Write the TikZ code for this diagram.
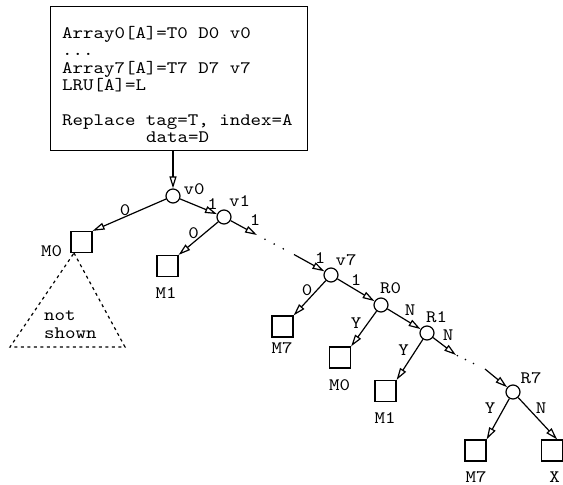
\documentclass[tikz,border=0pt]{standalone}
\usepackage{fontspec}
\setmonofont{lmmono10-regular.otf}[FakeStretch=1.14]
\usetikzlibrary{arrows.meta}
\begin{document}
\begin{tikzpicture}[x=1pt,y=-1pt,
  every node/.style={font=\ttfamily\fontsize{17.5}{17.5}\selectfont, inner sep=0pt},
  lbl/.style={anchor=base},
  txt/.style={anchor=base west},
  dec/.style={draw, circle, minimum size=14pt, line width=1.2pt},
  leaf/.style={draw, rectangle, minimum size=21pt, line width=1.2pt},
  arr/.style={line width=1.2pt, -{Triangle[open,length=12pt,width=7pt]}},
  dotchain/.style={line width=1.8pt, line cap=round, dash pattern=on 0pt off 10.3pt, dash phase=1.2pt, shorten >=6pt},
  dotchainb/.style={line width=1.8pt, line cap=round, dash pattern=on 0pt off 9pt, dash phase=7.5pt, shorten >=6pt},
  hidden/.style={line width=1.2pt, dash pattern=on 3pt off 3.5pt},
]
\useasboundingbox (0,0) rectangle (563,485);

% top box
\node[draw, line width=1.2pt, minimum width=257pt, minimum height=144pt, anchor=north west] (box) at (50,6) {};
\node[txt] (t1) at (62,38.3) {Array0[A]=T0 D0 v0};
\node[txt] (t2) at (62,55.6) {...};
\node[txt] (t3) at (62,73) {Array7[A]=T7 D7 v7};
\node[txt] (t4) at (62,90.3) {LRU[A]=L};
\node[txt] (t5) at (62,125) {Replace tag=T, index=A};
\node[txt] (t6) at (146,142.3) {data=D};

% decision nodes
\node[dec] (v0) at (173,196) {};
\node[dec] (v1) at (224,217) {};
\node[dec] (v7) at (331,275) {};
\node[dec] (r0) at (381,305) {};
\node[dec] (r1) at (427,333) {};
\node[dec] (r7) at (513,392) {};

% leaves
\node[leaf] (m0a) at (81.5,242) {};
\node[leaf] (m1a) at (167.5,266) {};
\node[leaf] (m7a) at (282.5,326.5) {};
\node[leaf] (m0b) at (340,357.5) {};
\node[leaf] (m1b) at (385.5,391) {};
\node[leaf] (m7b) at (475.5,450.5) {};
\node[leaf] (xs) at (552,450.5) {};

% dotted chain points
\coordinate (c1) at (257,235);
\coordinate (c2) at (294,254.5);
\coordinate (c3) at (456,355);
\coordinate (c4) at (485,369);

% edges
\draw[arr] (v0 |- box.south) -- (v0);
\draw[arr] (v0) -- (m0a.north east);
\draw[arr] (v0) -- (v1);
\draw[arr] (v1) -- (m1a.north east);
\draw[arr] (v1) -- (c1);
\draw[dotchain] (c1) -- (c2);
\draw[arr] (c2) -- (v7);
\draw[arr] (v7) -- (m7a.north east);
\draw[arr] (v7) -- (r0);
\draw[arr] (r0) -- (m0b.north east);
\draw[arr] (r0) -- (r1);
\draw[arr] (r1) -- (m1b.north east);
\draw[arr] (r1) -- (c3);
\draw[dotchainb] (c3) -- (c4);
\draw[arr] (c4) -- (r7);
\draw[arr] (r7) -- (m7b.north east);
\draw[arr] (r7) -- ([xshift=-6pt]xs.north east);

% subtree not shown
\coordinate (ta) at (74,253);
\coordinate (tb) at (125,347);
\coordinate (tc) at (10,347);
\draw[hidden] (ta) -- (tb) -- (tc) -- cycle;
\node[txt] (n1) at (44,320) {not};
\node[txt] (n2) at (44,338.5) {shown};

% labels
\node[lbl] (lv0) at (194,194) {v0};
\node[lbl] (lv1) at (239.5,206) {v1};
\node[lbl] (lv7) at (346,265) {v7};
\node[lbl] (lr0) at (390.5,293) {R0};
\node[lbl] (lr1) at (436.5,322) {R1};
\node[lbl] (lr7) at (531,383) {R7};
\node[lbl] (e1) at (212.5,209) {1};
\node[lbl] (e2) at (125,215) {0};
\node[lbl] (e3) at (193.5,238) {0};
\node[lbl] (e4) at (255,225) {1};
\node[lbl] (e5) at (320,263) {1};
\node[lbl] (e6) at (307,295) {0};
\node[lbl] (e7) at (356,285) {1};
\node[lbl] (e8) at (356,328) {Y};
\node[lbl] (e9) at (410,315) {N};
\node[lbl] (e10) at (403.5,355) {Y};
\node[lbl] (e11) at (448,340) {N};
\node[lbl] (e12) at (490,413) {Y};
\node[lbl] (e13) at (541,413) {N};
\node[lbl] (lm0a) at (51.5,256.5) {M0};
\node[lbl] (lm1a) at (166,298) {M1};
\node[lbl] (lm7a) at (282,353) {M7};
\node[lbl] (lm0b) at (339.5,390) {M0};
\node[lbl] (lm1b) at (385,423) {M1};
\node[lbl] (lm7b) at (476,482) {M7};
\node[lbl] (lx) at (554.5,482) {X};
\end{tikzpicture}
\end{document}
